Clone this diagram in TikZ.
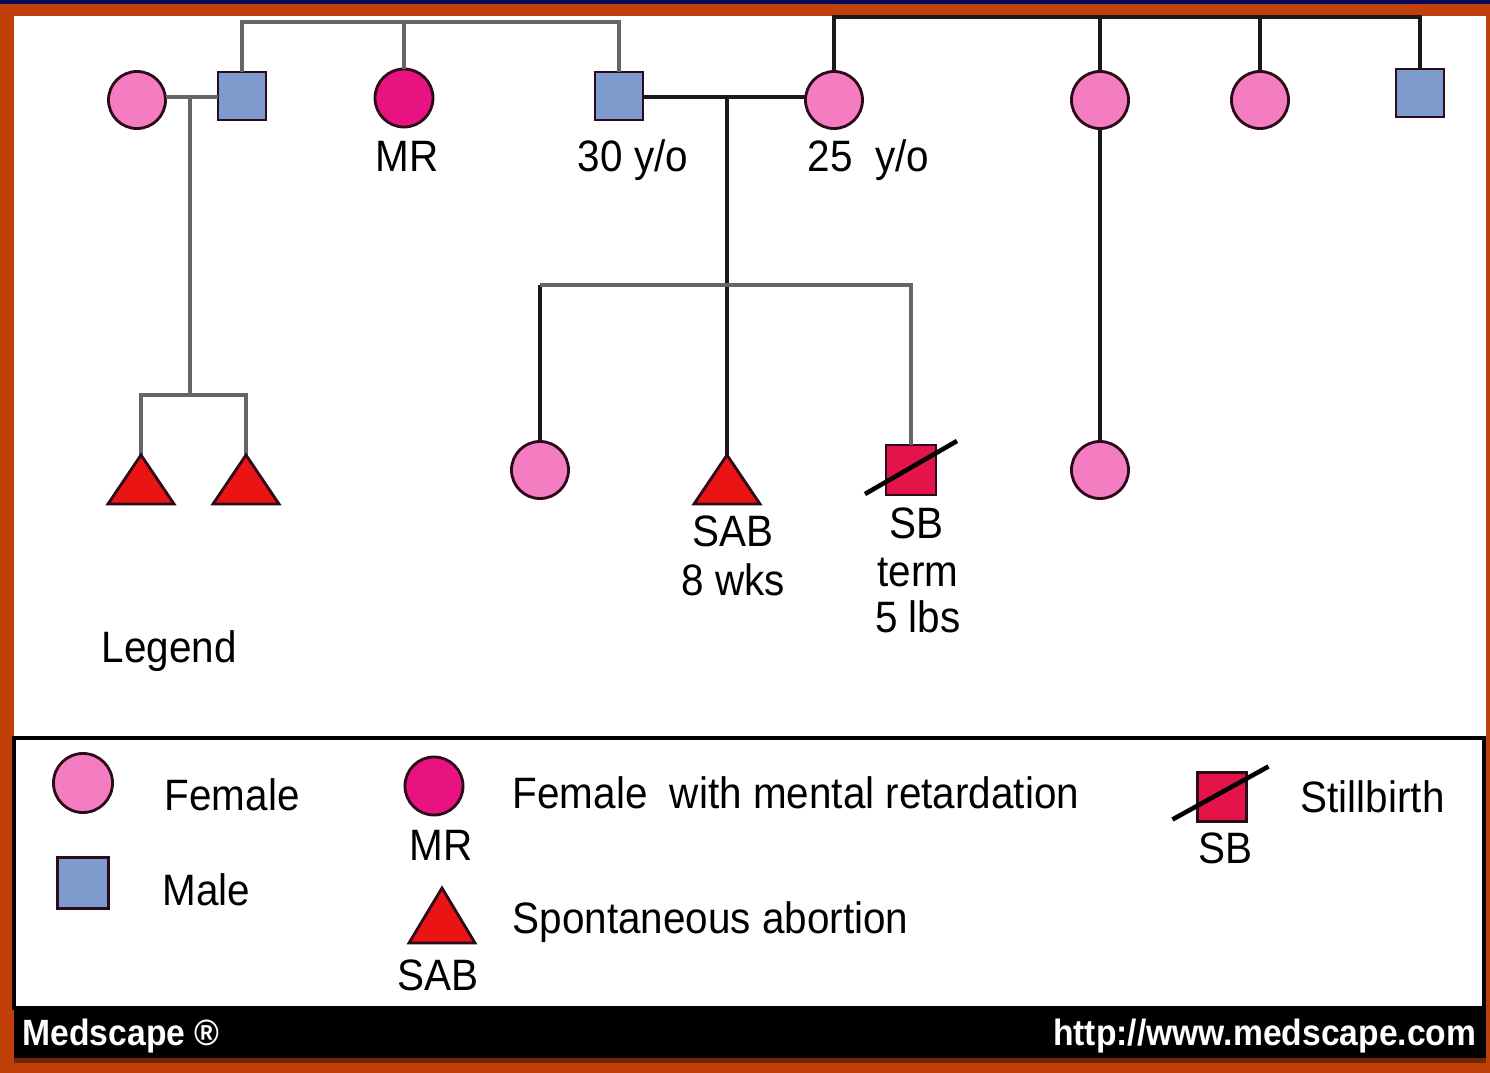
\documentclass[tikz,border=0pt]{standalone}
\usepackage{fontspec}
\setmainfont{Liberation Sans}[FakeStretch=0.92]
\usepackage{xcolor}
\usepackage{tikz}
\usetikzlibrary{calc}

\definecolor{femalepink}{RGB}{243,125,192}
\definecolor{mrpink}{RGB}{232,18,128}
\definecolor{maleblue}{RGB}{125,155,205}
\definecolor{sabred}{RGB}{235,20,20}
\definecolor{sbred}{RGB}{228,20,75}
\definecolor{edgedark}{RGB}{45,10,25}
\definecolor{framecol}{RGB}{192,64,8}
\definecolor{topnavy}{RGB}{10,10,90}

\begin{document}
\begin{tikzpicture}[x=0.01cm,y=-0.01cm,
  female/.style={circle,draw=edgedark,line width=0.8pt,fill=femalepink,minimum size=0.57cm,inner sep=0pt,outer sep=0pt},
  mrfemale/.style={female,fill=mrpink,minimum size=0.58cm},
  male/.style={rectangle,draw=edgedark,line width=0.8pt,fill=maleblue,minimum size=0.48cm,inner sep=0pt,outer sep=0pt},
  sbox/.style={male,fill=sbred,minimum size=0.5cm},
  sab/.style={draw=edgedark,line width=0.8pt,fill=sabred},
  slash/.style={line width=1.3pt,black},
  line/.style={line width=1.1pt,black!90},
  gline/.style={line width=1.1pt,black!60},
  lbl/.style={font=\fontsize{12.5}{14}\selectfont,inner sep=0pt},
  foot/.style={font=\bfseries\fontsize{10.4}{12}\selectfont,text=white,inner sep=0pt}]
\useasboundingbox (0,0) rectangle (1490,1073);
\fill[framecol] (0,0) rectangle (1490,1073);
\fill[topnavy] (0,0) rectangle (1490,4);
\fill[white] (14,16) rectangle (1486,1010);

% first generation
\node[female] (f1) at (137,100) {};
\node[male] (m1) at (242,96) {};
\node[mrfemale] (mr) at (404,98) {};
\node[male] (m2) at (619,96) {};
\node[female] (f2) at (834,100) {};
\node[female] (f3) at (1100,100) {};
\node[female] (f4) at (1260,100) {};
\node[male] (m3) at (1420,93) {};

% second generation
\node[female] (c1) at (540,470) {};
\node[sbox] (sb) at (911,470) {};
\node[female] (c2) at (1100,470) {};
\coordinate (t1) at (141,455);
\coordinate (t2) at (246,455);
\coordinate (t3) at (727,455);

\coordinate (sibL) at (430,22);
\coordinate (sibR) at (1100,17);
\draw[gline] (m1.north) |- (sibL) -| (m2.north);
\draw[gline] (mr.north) -- (mr.north |- sibL);
\draw[line] (f2.north) |- (sibR) -| (m3.north);
\draw[line] (f3.north) -- (f3.north |- sibR);
\draw[line] (f4.north) -- (f4.north |- sibR);
\draw[line] (f3.south) -- (c2.north);

\coordinate (mar1) at (190,97);
\coordinate (twin) at (190,395);
\draw[gline] (mar1 -| f1.east) -- (mar1 -| m1.west);
\draw[gline] (mar1) -- (twin);
\draw[gline] (t1) |- (twin) -| (t2);

\coordinate (mar2) at (727,97);
\coordinate (sib2) at (727,285);
\draw[line] (mar2 -| m2.east) -- (mar2 -| f2.west);
\draw[line] (mar2) -- (t3);
\draw[line] (c1.north) -- (c1.north |- sib2);
\draw[gline] (c1.north |- sib2) -- (sib2) -| (sb.north);

\foreach \t in {t1,t2,t3}
  \draw[sab] (\t) -- ++(-33,49) -- ++(66,0) -- cycle;
\draw[slash] ($(sb.south west)+(-21,-1)$) -- ($(sb.north east)+(21,-4)$);

\node[lbl,anchor=base] (lmr) at (407,172) {MR};
\node[lbl,anchor=base] (l30) at (633,172) {30 y/o};
\node[lbl,anchor=base west] (l25) at (807,172) {25\ \ y/o};
\node[lbl,anchor=base] (lsab) at (733,547) {SAB};
\node[lbl,anchor=base] (lwks) at (733,595) {8 wks};
\node[lbl,anchor=base] (lsb) at (916,538) {SB};
\node[lbl,anchor=base] (lterm) at (918,587) {term};
\node[lbl,anchor=base] (llbs) at (918,633) {5 lbs};
\node[lbl,anchor=base west] (llegend) at (101,662) {Legend};

% legend
\draw[line width=1pt] (14,738) rectangle (1484,1008);
\node[female,minimum size=0.59cm] (kf) at (83,783) {};
\node[male,minimum size=0.51cm] (km) at (83,883) {};
\node[mrfemale] (kmr) at (434,786) {};
\coordinate (kt) at (442,888);
\draw[sab] (kt) -- ++(-33,55) -- ++(66,0) -- cycle;
\node[sbox,minimum size=0.49cm] (ksb) at (1222,797) {};
\draw[slash] ($(ksb.south west)+(-25,-2)$) -- ($(ksb.north east)+(22,-6)$);
\node[lbl,anchor=base west] (kftxt) at (164,810) {Female};
\node[lbl,anchor=base west] (kmtxt) at (162,905) {Male};
\node[lbl,anchor=base] (kmrlab) at (441,860) {MR};
\node[lbl,anchor=base] (ksablab) at (438,990) {SAB};
\node[lbl,anchor=base west] (kmrtxt) at (512,808) {Female\ \ with mental retardation};
\node[lbl,anchor=base west] (ksabtxt) at (512,933) {Spontaneous abortion};
\node[lbl,anchor=base] (ksblab) at (1225,863) {SB};
\node[lbl,anchor=base west] (ksbtxt) at (1300,812) {Stillbirth};

\fill[black] (14,1010) rectangle (1486,1058);
\fill[framecol!60!black] (14,1058) rectangle (1486,1063);
\node[foot,anchor=base west] (brand) at (22,1045) {Medscape ®};
\node[foot,anchor=base east] (url) at (1477,1045) {http://www.medscape.com};
\end{tikzpicture}
\end{document}
